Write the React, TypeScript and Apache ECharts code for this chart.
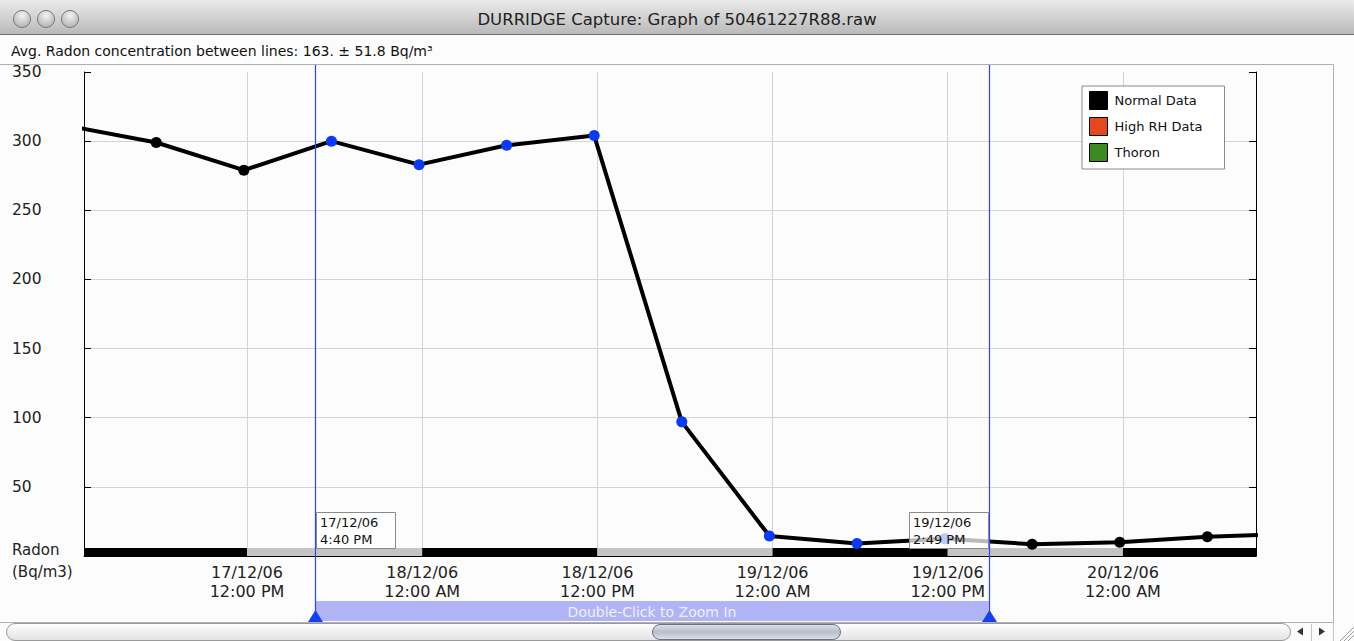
import React, { useEffect, useRef } from "react";
import * as echarts from "echarts";

// ---------- data ----------
const sampleTimes = [
  "2006-12-16 23:47",
  "2006-12-17 05:47",
  "2006-12-17 11:47",
  "2006-12-17 17:47",
  "2006-12-17 23:47",
  "2006-12-18 05:47",
  "2006-12-18 11:47",
  "2006-12-18 17:47",
  "2006-12-18 23:47",
  "2006-12-19 05:47",
  "2006-12-19 11:47",
  "2006-12-19 17:47",
  "2006-12-19 23:47",
  "2006-12-20 05:47",
  "2006-12-20 11:47",
];
const radonValues = [311, 299, 279, 300, 283, 297, 304, 97, 14.5, 9, 12.5, 8.5, 10, 14, 16];

const cursorTimes = ["2006-12-17 16:40", "2006-12-19 14:49"];
const axisRange = ["2006-12-17 00:50", "2006-12-20 09:07"];
const xTickTimes = [
  "2006-12-17 12:00",
  "2006-12-18 00:00",
  "2006-12-18 12:00",
  "2006-12-19 00:00",
  "2006-12-19 12:00",
  "2006-12-20 00:00",
];
const bandBreaks = [
  "2006-12-17 00:50",
  "2006-12-17 12:00",
  "2006-12-18 00:00",
  "2006-12-18 12:00",
  "2006-12-19 00:00",
  "2006-12-19 12:00",
  "2006-12-20 00:00",
  "2006-12-20 09:07",
];
const bandColors = ["#000000", "#c4c4c4", "#000000", "#c4c4c4", "#000000", "#c4c4c4", "#000000"];
const bandHeight = 5.8;
const yMin = 0;
const yMax = 350;
const yStep = 50;
const xStepHours = 12;
const legendNames = ["Normal Data", "High RH Data", "Thoron"];
const legendColors = ["#000000", "#e5481c", "#3b8a22"];

const TITLE = "DURRIDGE Capture: Graph of 50461227R88.raw";
const SUBTITLE = "Avg. Radon concentration between lines: 163. \u00b1 51.8 Bq/m\u00b3";
const Y_NAME = ["Radon", "(Bq/m3)"];
const ZOOM_TEXT = "Double-Click to Zoom In";

const FONT = "DejaVu Sans";
const BLUE = "#0a3af5";
const GRID = "#d4d4d4";

function toMs(s: string): number {
  const [d, t] = s.split(" ");
  const [Y, M, D] = d.split("-").map(Number);
  const [h, m] = t.split(":").map(Number);
  return Date.UTC(Y, M - 1, D, h, m);
}
function pad(n: number) {
  return n < 10 ? "0" + n : "" + n;
}
function fmt(ms: number): string {
  const d = new Date(ms);
  const h = d.getUTCHours();
  const ampm = h < 12 ? "AM" : "PM";
  const h12 = h % 12 === 0 ? 12 : h % 12;
  return `${pad(d.getUTCDate())}/${pad(d.getUTCMonth() + 1)}/${pad(d.getUTCFullYear() % 100)}\n${h12}:${pad(
    d.getUTCMinutes()
  )} ${ampm}`;
}

export default function App() {
  const ref = useRef<HTMLDivElement>(null);

  useEffect(() => {
    if (!ref.current) return;
    const chart = echarts.init(ref.current, undefined, { renderer: "svg" });
    const interval = xStepHours * 3600000;
    const c0 = toMs(cursorTimes[0]);
    const c1 = toMs(cursorTimes[1]);
    const tickSet = new Set(xTickTimes.map(toMs));

    const lineData = sampleTimes.map((t, i) => {
      const ms = toMs(t);
      const inside = ms >= c0 && ms <= c1;
      return { value: [ms, radonValues[i]], itemStyle: { color: inside ? BLUE : "#000000" } };
    });

    const bandData = bandColors.map((c, i) => [
      { xAxis: toMs(bandBreaks[i]), yAxis: 0, itemStyle: { color: c } },
      { xAxis: toMs(bandBreaks[i + 1]), yAxis: bandHeight },
    ]);

    chart.setOption({
      animation: false,
      useUTC: true,
      backgroundColor: "#fcfcfc",
      textStyle: { fontFamily: FONT },
      grid: { left: 84, right: 98, top: 72, bottom: 85, containLabel: false },
      legend: {
        left: 1082,
        top: 86,
        orient: "vertical",
        icon: "rect",
        itemWidth: 18,
        itemHeight: 18,
        itemGap: 7,
        padding: [5, 22, 7, 7],
        backgroundColor: "#ffffff",
        borderColor: "#8a8a8a",
        borderWidth: 1,
        borderRadius: 0,
        selectedMode: false,
        z: 20,
        itemStyle: { borderColor: "#000000", borderWidth: 1 },
        textStyle: { fontSize: 13, color: "#111", fontFamily: FONT, padding: [0, 0, 0, 2] },
        data: legendNames,
      },
      xAxis: {
        type: "time",
        min: toMs(axisRange[0]),
        max: toMs(axisRange[1]),
        minInterval: interval,
        maxInterval: interval,
        axisLine: { show: true, lineStyle: { color: "#000", width: 1 } },
        axisTick: { show: false },
        axisLabel: {
          formatter: (v: number) => (tickSet.has(v) ? fmt(v) : ""),
          fontSize: 16,
          lineHeight: 19,
          color: "#222",
          margin: 7,
          fontFamily: FONT,
          hideOverlap: false,
          showMinLabel: true,
          showMaxLabel: true,
        },
        splitLine: { show: false },
      },
      yAxis: [
        {
          type: "value",
          min: yMin,
          max: yMax,
          interval: yStep,
          position: "left",
          axisLine: { show: true, lineStyle: { color: "#000", width: 1 } },
          axisTick: { show: true, inside: true, length: 7, lineStyle: { color: "#000" } },
          axisLabel: {
            align: "left",
            margin: 72,
            fontSize: 15.5,
            color: "#222",
            fontFamily: FONT,
            formatter: (v: number) => (v === 0 ? "" : String(v)),
          },
          splitLine: { show: true, showMinLine: false, showMaxLine: false, lineStyle: { color: GRID, width: 1 } },
        },
        {
          type: "value",
          min: yMin,
          max: yMax,
          interval: yStep,
          position: "right",
          axisLine: { show: true, lineStyle: { color: "#000", width: 1 } },
          axisTick: { show: true, inside: true, length: 7, lineStyle: { color: "#000" } },
          axisLabel: { show: false },
          splitLine: { show: false },
        },
      ],
      series: [
        {
          name: "grid",
          type: "line",
          data: [],
          z: 0,
          silent: true,
          markLine: {
            z: 0,
            silent: true,
            symbol: ["none", "none"],
            label: { show: false },
            lineStyle: { color: GRID, width: 1, type: "solid" },
            data: xTickTimes.map((t) => ({ xAxis: toMs(t) })),
          },
        },
        {
          name: "band",
          type: "line",
          data: [],
          z: 1,
          silent: true,
          markArea: { z: 1, silent: true, data: bandData },
        },
        {
          name: legendNames[0],
          type: "line",
          z: 6,
          data: lineData,
          symbol: "circle",
          symbolSize: 11,
          lineStyle: { color: "#000", width: 4 },
          itemStyle: { color: legendColors[0] },
          clip: true,
        },
        { name: legendNames[1], type: "line", data: [], itemStyle: { color: legendColors[1] } },
        { name: legendNames[2], type: "line", data: [], itemStyle: { color: legendColors[2] } },
      ],
    });

    const x0 = chart.convertToPixel({ xAxisIndex: 0 }, c0) as number;
    const x1 = chart.convertToPixel({ xAxisIndex: 0 }, c1) as number;
    const l0 = fmt(c0);
    const l1 = fmt(c1);
    const rx0 = Math.round(x0) + 0.5;
    const rx1 = Math.round(x1) + 0.5;

    const graphic: any[] = [
      // title bar
      {
        type: "rect",
        shape: { x: 0, y: 0, width: 1354, height: 34 },
        style: {
          fill: new echarts.graphic.LinearGradient(0, 0, 0, 1, [
            { offset: 0, color: "#ebebeb" },
            { offset: 1, color: "#b9b9b9" },
          ]),
        },
        z: 5,
      },
      { type: "line", shape: { x1: 0, y1: 34.5, x2: 1354, y2: 34.5 }, style: { stroke: "#6f6f6f", lineWidth: 1 }, z: 6 },
      ...[22, 46, 70].map((cx) => ({
        type: "circle",
        shape: { cx, cy: 19, r: 8.5 },
        style: {
          fill: new echarts.graphic.RadialGradient(0.5, 0.3, 0.8, [
            { offset: 0, color: "#f4f4f4" },
            { offset: 1, color: "#a8a8a8" },
          ]),
          stroke: "#7a7a7a",
          lineWidth: 1,
        },
        z: 6,
      })),
      {
        type: "text",
        x: 677,
        y: 19,
        style: { text: TITLE, fontSize: 16.5, fill: "#222", align: "center", verticalAlign: "middle", fontFamily: FONT },
        z: 6,
      },
      // subtitle
      {
        type: "text",
        x: 11,
        y: 51,
        style: { text: SUBTITLE, fontSize: 14, fill: "#111", align: "left", verticalAlign: "middle", fontFamily: FONT },
        z: 6,
      },
      // panel border
      {
        type: "rect",
        shape: { x: -1, y: 64.5, width: 1334.5, height: 558 },
        style: { fill: "none", stroke: "#b0b0b0", lineWidth: 1 },
        z: 0,
        silent: true,
      },
      // y axis name
      {
        type: "text",
        x: 12,
        y: 550,
        style: { text: Y_NAME[0], fontSize: 15, fill: "#222", verticalAlign: "middle", fontFamily: FONT },
        z: 6,
      },
      {
        type: "text",
        x: 12,
        y: 572,
        style: { text: Y_NAME[1], fontSize: 15, fill: "#222", verticalAlign: "middle", fontFamily: FONT },
        z: 6,
      },
      // zoom bar
      {
        type: "rect",
        shape: { x: x0, y: 601, width: x1 - x0, height: 20 },
        style: { fill: "#b1b4f4" },
        z: 6,
      },
      {
        type: "text",
        x: (x0 + x1) / 2,
        y: 611.5,
        style: {
          text: ZOOM_TEXT,
          fontSize: 14,
          fill: "#eef0ff",
          align: "center",
          verticalAlign: "middle",
          fontFamily: FONT,
        },
        z: 7,
      },
      // cursor lines
      ...[rx0, rx1].map((x) => ({
        type: "line",
        shape: { x1: x, y1: 65, x2: x, y2: 614 },
        style: { stroke: "#2b45ff", lineWidth: 1.2 },
        z: 8,
      })),
      ...[rx0, rx1].map((x) => ({
        type: "polygon",
        shape: {
          points: [
            [x - 7.5, 622],
            [x + 7.5, 622],
            [x, 610],
          ],
        },
        style: { fill: "#1440f0" },
        z: 9,
      })),
      // cursor labels
      {
        type: "rect",
        shape: { x: Math.round(x0) + 1.5, y: 512.5, width: 79, height: 36 },
        style: { fill: "rgba(255,255,255,0.72)", stroke: "#8a8a8a", lineWidth: 1 },
        z: 20,
      },
      {
        type: "text",
        x: Math.round(x0) + 5,
        y: 530.5,
        style: { text: l0, fontSize: 13, lineHeight: 17, fill: "#111", verticalAlign: "middle", fontFamily: FONT },
        z: 21,
      },
      {
        type: "rect",
        shape: { x: Math.round(x1) - 79.5, y: 512.5, width: 79, height: 36 },
        style: { fill: "rgba(255,255,255,0.72)", stroke: "#8a8a8a", lineWidth: 1 },
        z: 20,
      },
      {
        type: "text",
        x: Math.round(x1) - 76,
        y: 530.5,
        style: { text: l1, fontSize: 13, lineHeight: 17, fill: "#111", verticalAlign: "middle", fontFamily: FONT },
        z: 21,
      },
      // scrollbar
      {
        type: "rect",
        shape: { x: 6.5, y: 623.5, width: 1284, height: 17, r: 8.5 },
        style: {
          fill: new echarts.graphic.LinearGradient(0, 0, 0, 1, [
            { offset: 0, color: "#ffffff" },
            { offset: 1, color: "#e2e2e2" },
          ]),
          stroke: "#9a9a9a",
          lineWidth: 1,
        },
        z: 6,
      },
      {
        type: "rect",
        shape: { x: 652.5, y: 624.5, width: 188, height: 15, r: 7.5 },
        style: {
          fill: new echarts.graphic.LinearGradient(0, 0, 0, 1, [
            { offset: 0, color: "#dfe2ea" },
            { offset: 0.5, color: "#b9bdc9" },
            { offset: 1, color: "#dfe2ea" },
          ]),
          stroke: "#6e7280",
          lineWidth: 1,
        },
        z: 7,
      },
      { type: "line", shape: { x1: 1311.5, y1: 624, x2: 1311.5, y2: 641 }, style: { stroke: "#c4c4c4" }, z: 6 },
      { type: "line", shape: { x1: 1333.5, y1: 622, x2: 1333.5, y2: 641 }, style: { stroke: "#c4c4c4" }, z: 6 },
      {
        type: "polygon",
        shape: { points: [[1297, 631.5], [1303, 627.5], [1303, 635.5]] },
        style: { fill: "#333" },
        z: 7,
      },
      {
        type: "polygon",
        shape: { points: [[1325, 631.5], [1319, 627.5], [1319, 635.5]] },
        style: { fill: "#333" },
        z: 7,
      },
      ...[0, 4, 8].map((o) => ({
        type: "line",
        shape: { x1: 1340 + o, y1: 641, x2: 1354, y2: 627 + o },
        style: { stroke: "#9a9a9a", lineWidth: 1 },
        z: 7,
      })),
    ];

    chart.setOption({ graphic });

    return () => chart.dispose();
  }, []);

  return (
    <div
      ref={ref}
      style={{ position: "fixed", left: 0, top: 0, width: 1354, height: 641 }}
    />
  );
}
